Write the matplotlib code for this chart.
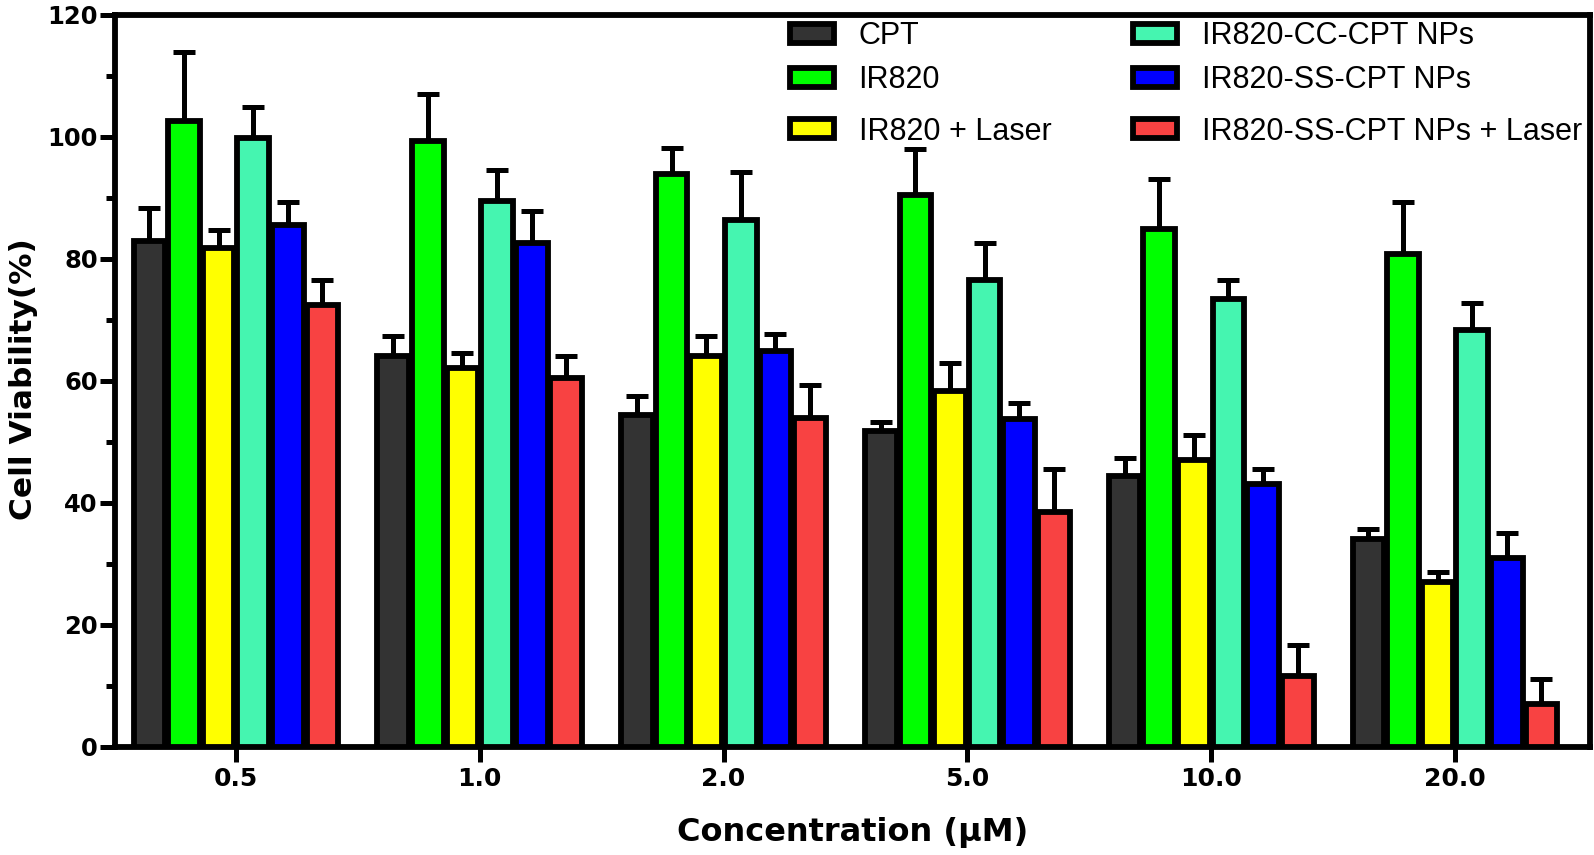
import matplotlib
matplotlib.use("Agg")
import matplotlib.pyplot as plt
import numpy as np

categories = ["0.5", "1.0", "2.0", "5.0", "10.0", "20.0"]
series = ["CPT", "IR820", "IR820 + Laser", "IR820-CC-CPT NPs",
          "IR820-SS-CPT NPs", "IR820-SS-CPT NPs + Laser"]
cpt      = [82.9, 64.0, 54.3, 51.7, 44.4, 34.1]
cpt_err  = [5.4, 3.4, 3.2, 1.6, 2.9, 1.5]
ir820    = [102.6, 99.3, 93.9, 90.5, 84.9, 80.8]
ir820_err = [11.4, 7.8, 4.3, 7.5, 8.2, 8.5]
ir820_l  = [81.8, 62.1, 64.0, 58.4, 47.0, 27.0]
ir820_l_err = [3.0, 2.4, 3.3, 4.5, 4.1, 1.6]
cc       = [99.9, 89.5, 86.4, 76.6, 73.4, 68.4]
cc_err   = [5.0, 5.0, 7.8, 6.0, 3.2, 4.4]
ss       = [85.6, 82.6, 64.8, 53.8, 43.1, 31.0]
ss_err   = [3.7, 5.2, 2.9, 2.5, 2.4, 4.0]
ss_l     = [72.5, 60.4, 53.9, 38.5, 11.5, 6.9]
ss_l_err = [4.0, 3.7, 5.4, 7.0, 5.1, 4.1]

values = [cpt, ir820, ir820_l, cc, ss, ss_l]
errors = [cpt_err, ir820_err, ir820_l_err, cc_err, ss_err, ss_l_err]
colors = ["#333333", "#00FF00", "#FFFF00", "#45F5B0", "#0000FF", "#F84242"]

plt.rcParams['font.family'] = ['DejaVu Sans']

W, H = 1594, 855
fig = plt.figure(figsize=(W / 100, H / 100), dpi=100)
ax_l, ax_r, ax_t, ax_b = 115, 1590, 15, 746.5
ax = fig.add_axes([ax_l / W, 1 - ax_b / H, (ax_r - ax_l) / W, (ax_b - ax_t) / H])

x = np.arange(len(categories))
step = 0.142
w = 0.130
lw = 4.2
handles = []
for j, (vals, errs, col, lab) in enumerate(zip(values, errors, colors, series)):
    pos = x + (j - 2.5) * step
    b = ax.bar(pos, vals, width=w, color=col, edgecolor='black', linewidth=lw,
               label=lab, zorder=3)
    handles.append(b)
    ax.errorbar(pos, vals, yerr=[np.zeros(len(vals)), errs], fmt='none',
                ecolor='black', elinewidth=3.6, capsize=8.0, capthick=3.6,
                zorder=2)

ax.set_xlim(-0.496, 5.554)
ax.set_ylim(0, 120)
ax.set_xticks(x)
ax.set_xticklabels(categories)
ax.set_yticks(np.arange(0, 121, 20))
ax.set_yticks(np.arange(10, 120, 20), minor=True)

for s in ax.spines.values():
    s.set_linewidth(4.2)

ax.tick_params(axis='y', which='major', direction='out', width=3.6,
               length=10.5, labelsize=17.5, pad=2)
ax.tick_params(axis='y', which='minor', direction='out', width=3.6, length=6.5)
ax.tick_params(axis='x', which='major', direction='out', width=3.6,
               length=11, labelsize=18, pad=4)
for t in ax.get_xticklabels() + ax.get_yticklabels():
    t.set_fontweight('bold')

ax.set_ylabel("Cell Viability(%)", fontsize=22.5, fontweight='bold')
ax.yaxis.set_label_coords((23.5 - ax_l) / (ax_r - ax_l), 0.5 - (379 - (ax_t + ax_b) / 2) / (ax_b - ax_t))
ax.yaxis.label.set_va('center')
ax.set_xlabel("Concentration (\u00b5M)", fontsize=23, fontweight='bold')
ax.xaxis.set_label_coords(0.5, -(832 - ax_b) / (ax_b - ax_t))
ax.xaxis.label.set_va('center')

# legend entries placed individually (rows are unevenly spaced in the original)
fs = 22
col_x = [789.5, 1132.5]
row_y = [36.5, 80, 131.5]
for k, (h, lab) in enumerate(zip(handles, series)):
    cx = col_x[k // 3]
    cy = row_y[k % 3]
    leg = fig.legend([h], [lab], loc='center left',
                     bbox_to_anchor=(cx / W, 1 - cy / H),
                     bbox_transform=fig.transFigure, frameon=False,
                     prop={'family': 'Liberation Sans', 'size': fs},
                     handlelength=1.46, handleheight=0.57, handletextpad=0.8,
                     borderpad=0, borderaxespad=0)

fig.savefig("out.png", dpi=100)
